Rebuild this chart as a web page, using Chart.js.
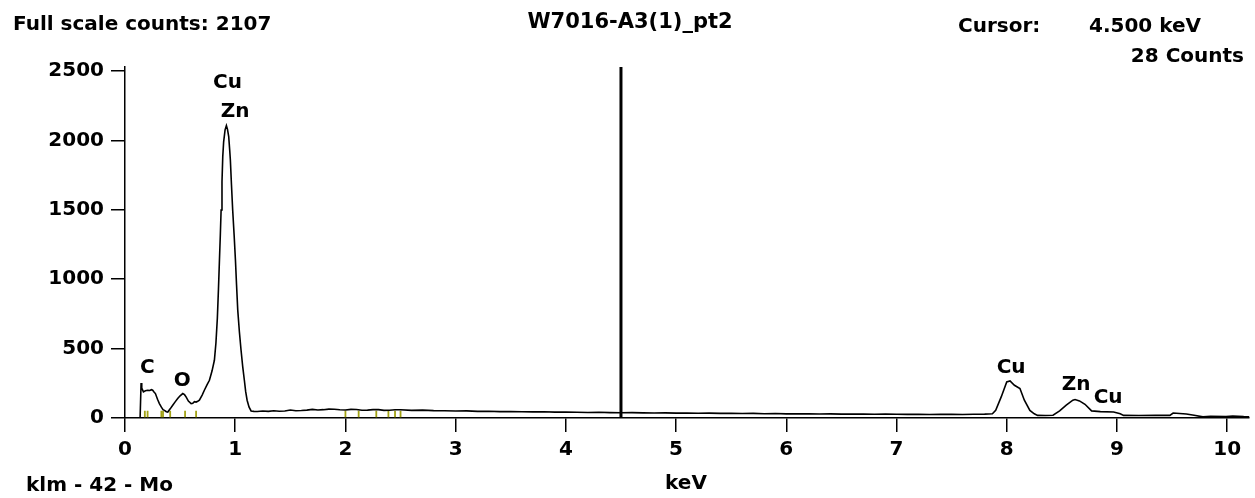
<!DOCTYPE html>
<html lang="en">
<head>
  <meta charset="UTF-8" />
  <title>W7016-A3(1)_pt2</title>
  <style>
    body{margin:0;background:#fff}
    #wrap{width:1255px;height:498px;position:relative}
  </style>
</head>
<body>
  <div id="wrap"><canvas id="chart"></canvas></div>

  <script src="https://cdn.jsdelivr.net/npm/chart.js"></script>
  <script>
  /* ---------- data ---------- */
  const energyKeV = [
    0, 0.137, 0.144, 0.146, 0.152, 0.167, 0.185, 0.206, 0.225, 0.24, 0.251, 0.265, 0.276,
    0.295, 0.312, 0.33, 0.345, 0.358, 0.375, 0.388, 0.41, 0.433, 0.455, 0.478, 0.5, 0.524,
    0.54, 0.554, 0.575, 0.6, 0.615, 0.63, 0.645, 0.66, 0.675, 0.7, 0.72, 0.745, 0.766, 0.79,
    0.811, 0.825, 0.838, 0.848, 0.857, 0.865, 0.872, 0.88, 0.887, 0.895, 0.908, 0.92, 0.93,
    0.941, 0.95, 0.956, 0.966, 0.977, 0.99, 1.002, 1.012, 1.023, 1.038, 1.053, 1.068, 1.083,
    1.095, 1.108, 1.125, 1.144, 1.17, 1.2, 1.25, 1.3, 1.35, 1.4, 1.45, 1.5, 1.55, 1.6, 1.65,
    1.7, 1.75, 1.8, 1.85, 1.9, 1.95, 2.0, 2.05, 2.1, 2.15, 2.2, 2.25, 2.3, 2.35, 2.4, 2.45,
    2.5, 2.6, 2.7, 2.8, 2.9, 3.0, 3.1, 3.2, 3.3, 3.4, 3.5, 3.6, 3.7, 3.8, 3.9, 4.0, 4.1,
    4.2, 4.3, 4.4, 4.5, 4.6, 4.7, 4.8, 4.9, 5.0, 5.1, 5.2, 5.3, 5.4, 5.5, 5.6, 5.7, 5.8,
    5.9, 6.0, 6.1, 6.2, 6.3, 6.4, 6.5, 6.6, 6.7, 6.8, 6.9, 7.0, 7.1, 7.2, 7.3, 7.4, 7.5,
    7.6, 7.7, 7.8, 7.87, 7.9, 7.95, 8.0, 8.03, 8.07, 8.12, 8.16, 8.21, 8.25, 8.28, 8.35,
    8.42, 8.48, 8.54, 8.6, 8.62, 8.66, 8.71, 8.77, 8.85, 8.97, 9.03, 9.06, 9.2, 9.35, 9.48,
    9.51, 9.63, 9.7, 9.78, 9.85, 9.99, 10.05, 10.15, 10.25
  ];
  const counts = [
    0, 0, 0, 252, 215, 188, 196, 200, 198, 204, 200, 186, 176,
    135, 104, 78, 60, 55, 45, 43, 66, 92, 116, 140, 160, 176,
    168, 152, 122, 104, 106, 118, 115, 121, 128, 165, 200, 240, 272, 340,
    416, 540, 720, 930, 1138, 1320, 1499, 1700, 1883, 1990, 2076, 2107, 2080,
    2027, 1930, 1859, 1680, 1499, 1320, 1138, 960, 777, 620, 488, 370, 272,
    190, 128, 80, 51, 48, 47, 50, 48, 52, 49, 50, 58, 52, 54, 57,
    62, 58, 60, 64, 63, 59, 58, 62, 61, 56, 57, 60, 60, 55, 56, 59,
    59, 55, 57, 53, 52, 50, 51, 48, 49, 46, 47, 45, 44, 45, 42, 43, 41,
    40, 41, 39, 38, 39, 37, 36, 37, 35, 36, 34, 35, 33, 34, 32, 33, 31,
    32, 30, 31, 30, 29, 30, 28, 29, 28, 27, 28, 27, 26, 27, 25, 26, 27,
    25, 27, 28, 30, 55, 152, 260, 267, 236, 212, 128, 55, 30, 19, 18,
    20, 51, 92, 128, 133, 123, 99, 51, 46, 43, 30, 19, 18, 19, 19,
    36, 29, 20, 8, 12, 10, 14, 10, 8
  ];

  // element marker ticks (KLM lines)
  const markerKeV = [0.18, 0.205, 0.33, 0.345, 0.41, 0.545, 0.645, 2.0, 2.12, 2.28, 2.39, 2.45, 2.5];
  const markerCounts = [29, 29, 29, 29, 29, 29, 29, 29, 29, 29, 29, 29, 29];

  // peak labels
  const peakNames  = ['C', 'O', 'Cu', 'Zn', 'Cu', 'Zn', 'Cu'];
  const peakKeV    = [0.203, 0.52, 0.93, 1.0, 8.04, 8.63, 8.92];
  const peakCounts = [361, 267, 2417, 2208, 361, 238, 144];

  const cursorKeV = 4.5;
  const xTicks = [0, 1, 2, 3, 4, 5, 6, 7, 8, 9, 10];
  const yTicks = [0, 500, 1000, 1500, 2000, 2500];
  const xMax = 10.2, yMax = 2529;

  /* ---------- text plugins ---------- */
  const FONT = 'bold 20px "DejaVu Sans"';
  const textPlugin = {
    id: 'edsText',
    afterDraw(chart) {
      const c = chart.ctx, xs = chart.scales.x, ys = chart.scales.y;
      c.save();
      c.fillStyle = '#000';
      c.font = FONT;
      c.textBaseline = 'alphabetic';
      c.textAlign = 'left';
      c.fillText('Full scale counts: 2107', 13, 30);
      c.fillText('Cursor:', 958, 32);
      c.fillText('4.500 keV', 1089, 32);
      c.fillText('klm - 42 - Mo', 26, 491);
      c.textAlign = 'center';
      c.font = 'bold 21px "DejaVu Sans"';
      c.fillText('W7016-A3(1)_pt2', 630, 28);
      c.font = FONT;
      c.fillText('keV', 686, 489);
      c.textAlign = 'right';
      c.fillText('28 Counts', 1244, 62);
      // peak labels at data positions
      c.textAlign = 'center';
      c.textBaseline = 'middle';
      peakNames.forEach((n, i) => {
        c.fillText(n, xs.getPixelForValue(peakKeV[i]), ys.getPixelForValue(peakCounts[i]));
      });
      c.restore();
    }
  };

  /* ---------- chart ---------- */
  Chart.defaults.font.family = '"DejaVu Sans"';
  Chart.defaults.font.size = 20;
  Chart.defaults.font.weight = 'bold';
  Chart.defaults.color = '#000';

  const ctx = document.getElementById('chart').getContext('2d');
  new Chart(ctx, {
    type: 'line',
    data: {
      datasets: [
        {
          label: 'cursor',
          data: [{x: cursorKeV, y: 0}, {x: cursorKeV, y: yMax}],
          borderColor: '#000', borderWidth: 3, pointRadius: 0
        },
        {
          label: 'spectrum',
          data: energyKeV.map((e, i) => ({x: e, y: counts[i]})),
          borderColor: '#000', borderWidth: 1.6, pointRadius: 0, tension: 0
        },
        {
          label: 'markers',
          type: 'scatter',
          data: markerKeV.map((e, i) => ({x: e, y: markerCounts[i]})),
          pointStyle: 'line', rotation: 90, radius: 3.2,
          borderColor: '#a2a214', borderWidth: 1.8, backgroundColor: '#a2a214'
        }
      ]
    },
    options: {
      responsive: true, maintainAspectRatio: false, animation: false,
      layout: {padding: {top: 67, right: 0, left: 0, bottom: 0}},
      plugins: {legend: {display: false}, tooltip: {enabled: false}},
      scales: {
        x: {
          type: 'linear', min: 0, max: xMax,
          afterBuildTicks: s => { s.ticks = xTicks.map(v => ({value: v})); },
          afterFit: s => { s.height = 80; },
          ticks: {padding: 6, maxRotation: 0, autoSkip: false, callback: v => String(v)},
          grid: {drawOnChartArea: false, tickLength: 14, color: '#000', lineWidth: 1.5},
          border: {color: '#000', width: 1.5}
        },
        y: {
          type: 'linear', min: 0, max: yMax,
          afterBuildTicks: s => { s.ticks = yTicks.map(v => ({value: v})); },
          afterFit: s => { s.width = 125; },
          ticks: {padding: 7, callback: v => String(v)},
          grid: {drawOnChartArea: false, tickLength: 14, color: '#000', lineWidth: 1.5},
          border: {color: '#000', width: 1.5}
        }
      }
    },
    plugins: [textPlugin]
  });
  </script>
</body>
</html>
